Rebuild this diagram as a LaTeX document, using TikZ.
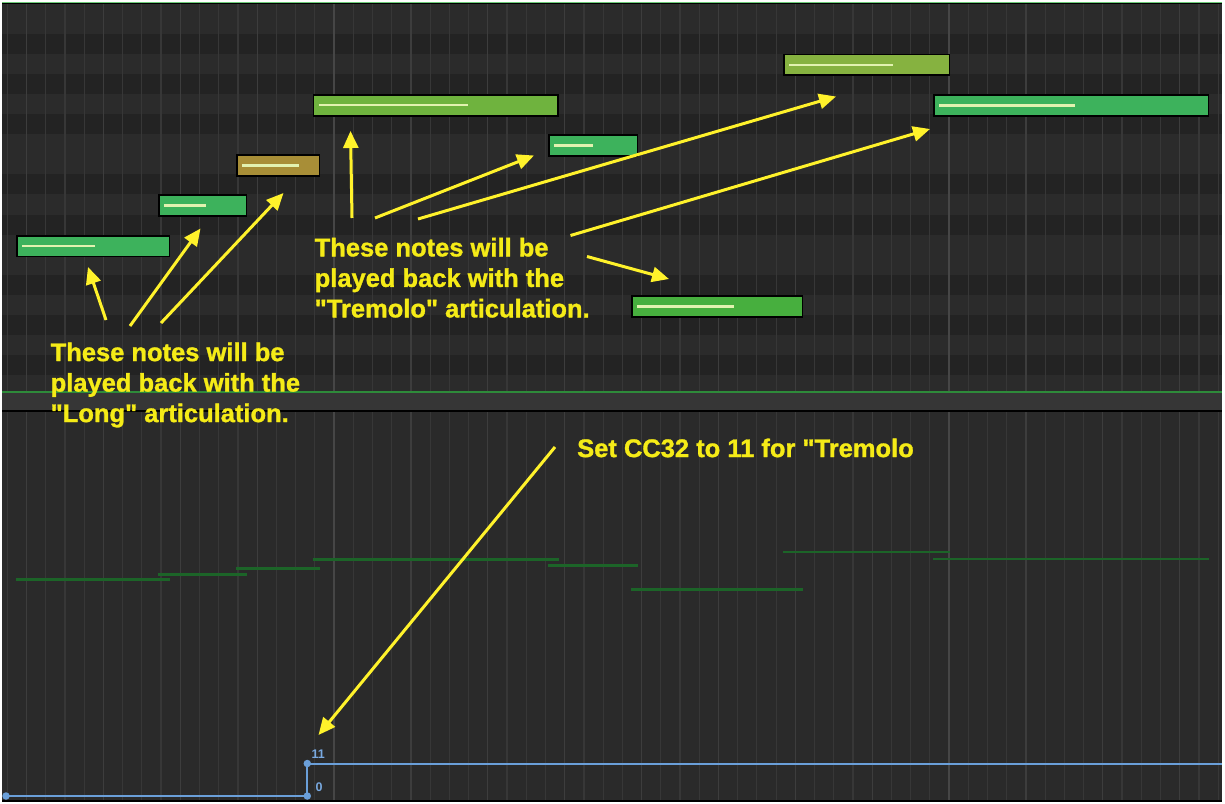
\documentclass[tikz,border=0pt]{standalone}
\usepackage{fontspec}
\setmainfont{Liberation Sans}
\newfontfamily\annotfont[BoldFeatures={FakeBold=1.2}]{Liberation Sans}
\usetikzlibrary{arrows.meta}
\definecolor{rowlight}{HTML}{2B2B2B}
\definecolor{rowdark}{HTML}{232323}
\definecolor{lowbg}{HTML}{2A2A2A}
\definecolor{gridc}{HTML}{373737}
\definecolor{beatc}{HTML}{3D3D3D}
\definecolor{barc}{HTML}{464646}
\definecolor{divband}{HTML}{363636}
\definecolor{divgreen}{HTML}{2E8B3A}
\definecolor{topgreen}{HTML}{6CCB78}
\definecolor{cgreen}{HTML}{3DB25C}
\definecolor{cgold}{HTML}{A88E37}
\definecolor{clime}{HTML}{6FB33E}
\definecolor{colive}{HTML}{86B240}
\definecolor{cbright}{HTML}{47AF3E}
\definecolor{velin}{HTML}{E2F2B0}
\definecolor{velbar}{HTML}{1C6428}
\definecolor{arrowy}{HTML}{FFF22B}
\definecolor{texty}{HTML}{F5EB17}
\definecolor{ccblue}{HTML}{6A9FD9}
\definecolor{cclab}{HTML}{79A9E0}
\tikzset{
  notebox/.style={draw=black, line width=1.5pt, inner sep=0pt, anchor=north west},
  velline/.style={velin, line width=2.2pt},
  velbarline/.style={velbar, line width=2.5pt},
  callout/.style={arrowy, line width=3pt, -{Triangle[length=17pt,width=15pt]}},
  annot/.style={texty, inner sep=0pt, anchor=north west, align=left,
    font=\annotfont\fontsize{25.5}{30.5}\selectfont\bfseries},
  ccline/.style={ccblue, line width=2pt},
  ccdot/.style={circle, fill=ccblue, inner sep=0pt, minimum size=7.5pt},
  cclabel/.style={cclab, inner sep=0pt, anchor=west, font=\fontsize{12.5}{14}\selectfont\bfseries},
  gridline/.style={line width=1.2pt}
}
\begin{document}
\begin{tikzpicture}[x=1pt,y=-1pt]
\useasboundingbox (0,0) rectangle (1225,803);
\fill[white] (0,0) rectangle (1225,803);
% top panel rows
\fill[rowlight] (2,4.3) rectangle (1222,392);
\foreach \i in {1,3,5,8,10,13,15,17}
  \fill[rowdark] (2,{13.5+20.1*\i}) rectangle (1222,{13.5+20.1*(\i+1)});
% lower panel
\fill[lowbg] (2,411.7) rectangle (1222,800);
% grid
\foreach \k in {0,...,63}
  \draw[gridline, gridc] ({7.3+19.22*\k},4.3) -- ({7.3+19.22*\k},392)
        ({7.3+19.22*\k},411.7) -- ({7.3+19.22*\k},800);
\foreach \k in {1,5,...,61}
  \draw[gridline, beatc] ({7.3+19.22*\k},4.3) -- ({7.3+19.22*\k},392)
        ({7.3+19.22*\k},411.7) -- ({7.3+19.22*\k},800);
\foreach \k in {17,49}
  \draw[gridline, barc] ({7.3+19.22*\k},4.3) -- ({7.3+19.22*\k},392)
        ({7.3+19.22*\k},411.7) -- ({7.3+19.22*\k},800);
% divider
\fill[divband] (2,392) rectangle (1222,411);
\draw[divgreen, line width=1.3pt] (2,392) -- (1222,392);
\draw[black, line width=1.2pt] (2,411) -- (1222,411);
% top strip and bottom edge
\fill[topgreen] (2,1.7) rectangle (1222,3);
\fill[black] (2,3) rectangle (1222,4.3);
\fill[black] (2,800) rectangle (1222,801.6);
% notes
\foreach \nm/\xa/\ya/\xb/\yb/\le/\col/\vy in {
  n1/16/235/168.7/255.7/95/cgreen/579.5,
  n2/158/194.3/245.7/215.3/205.7/cgreen/574.3,
  n3/236.3/154.3/318.7/175.3/299/cgold/568.3,
  n4/312.7/94/557.3/115/468/clime/559.3,
  n5/548.3/134.3/636.7/155.3/593.3/cgreen/565.7,
  n6/783.3/53.7/948.7/74.3/892.7/colive/552,
  n7/933/94.3/1207.7/115/1075/cgreen/559,
  n8/631/295.3/801.7/316.3/734/cbright/589.7}{
  \node[notebox, fill=\col, minimum width={(\xb-\xa)*1pt}, minimum height={(\yb-\ya)*1pt}] (\nm) at (\xa,\ya) {};
  \draw[velline] ([xshift=6pt]\nm.west) -- (\le,0 |- \nm.west);
  \draw[velbarline] (\nm.west |- 0,\vy) -- (\nm.east |- 0,\vy);
}
% CC32 automation
\coordinate (a0) at (6,796);
\coordinate (a1) at (307.3,796);
\coordinate (a2) at (307.3,763.5);
\coordinate (a3) at (1222,763.5);
\draw[ccline] (a0) -- (a1) -- (a2) -- (a3);
\node[ccdot] (d0) at (a0) {};
\node[ccdot] (d1) at (a1) {};
\node[ccdot] (d2) at (a2) {};
\node[cclabel] (l11) at (311.5,754) {11};
\node[cclabel] (l0) at (315.5,787) {0};
% annotation texts
\node[annot] (tlong) at (50.5,342.4) {These notes will be\\played back with the\\\textquotedbl Long\textquotedbl{} articulation.};
\node[annot] (ttrem) at (314.5,237.7) {These notes will be\\played back with the\\\textquotedbl Tremolo\textquotedbl{} articulation.};
\node[annot] (tcc) at (577,438.4) {Set CC32 to 11 for \textquotedbl Tremolo};
% arrow end points
\coordinate (a1t) at (106,320);   \coordinate (a1h) at (88,267);
\coordinate (a2t) at (130,326);   \coordinate (a2h) at (200.5,228.5);
\coordinate (a3t) at (161,323);   \coordinate (a3h) at (283.5,193);
\coordinate (b1t) at (352,218);   \coordinate (b1h) at (350.5,131);
\coordinate (b2t) at (375,218);   \coordinate (b2h) at (534,155.5);
\coordinate (b3t) at (418,219);   \coordinate (b3h) at (836,96.5);
\coordinate (b4t) at (570.5,235.5); \coordinate (b4h) at (930,129);
\coordinate (b5t) at (587,256.5); \coordinate (b5h) at (669,279);
\coordinate (c1t) at (555,447);   \coordinate (c1h) at (318.5,735);
\foreach \p in {a1,a2,a3,b1,b2,b3,b4,b5,c1}
  \draw[callout] (\p t) -- (\p h);
\end{tikzpicture}
\end{document}
